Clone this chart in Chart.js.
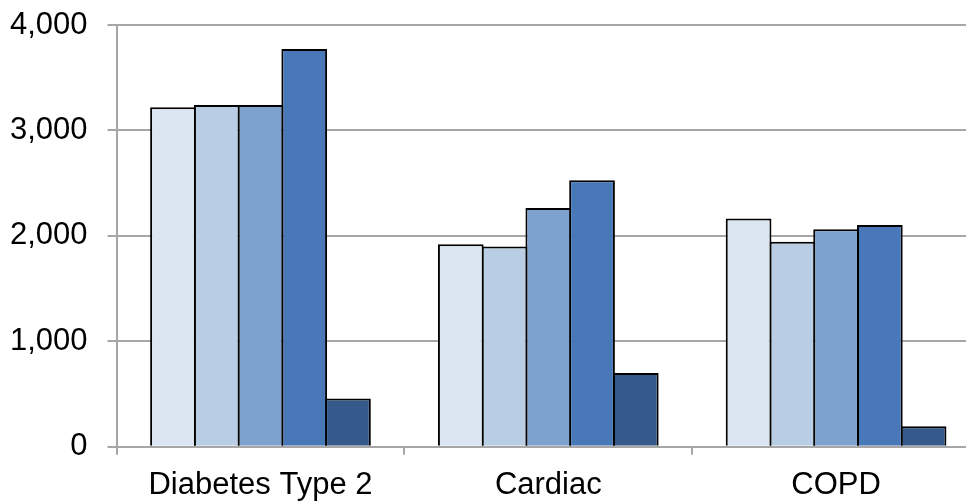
<!DOCTYPE html>
<html>
<head>
<meta charset="utf-8">
<script src="https://cdn.jsdelivr.net/npm/chart.js@4"></script>
<style>
  html, body { margin: 0; padding: 0; background: #fff; overflow: hidden; }
  #wrap { width: 990px; height: 501px; }
</style>
</head>
<body>
<div id="wrap"><canvas id="grafico" width="990" height="501"></canvas></div>
<script>
const categorias = ['Diabetes Type 2', 'Cardiac', 'COPD'];

// um array por série (da mais clara à mais escura)
const serie1 = [3220, 1922, 2164];
const serie2 = [3242, 1900, 1945];
const serie3 = [3242, 2265, 2062];
const serie4 = [3772, 2528, 2103];
const serie5 = [457, 701, 194];

const nomesSeries = ['Series 1', 'Series 2', 'Series 3', 'Series 4', 'Series 5'];
const cores = ['#dce6f2', '#b9cde5', '#7da2cd', '#4878b7', '#34598a'];

const valoresY = [0, 1000, 2000, 3000, 4000];

function gerarGrafico() {
  const series = [serie1, serie2, serie3, serie4, serie5];
  const ctx = document.getElementById('grafico').getContext('2d');
  new Chart(ctx, {
    type: 'bar',
    data: {
      labels: categorias,
      datasets: series.map((data, i) => ({
        label: nomesSeries[i],
        data,
        backgroundColor: cores[i],
        borderColor: '#000',
        borderWidth: 2,
        borderSkipped: 'bottom',
        categoryPercentage: 0.76,
        // barras um pouco sobrepostas para a borda entre elas ficar simples
        barPercentage: 1.045
      }))
    },
    options: {
      responsive: false,
      animation: false,
      layout: { padding: { left: -10, top: 25, right: 10, bottom: -15 } },
      plugins: {
        legend: { display: false },
        tooltip: { enabled: false }
      },
      scales: {
        x: {
          grid: {
            offset: true,
            drawOnChartArea: false,
            drawTicks: true,
            tickLength: 8,
            color: '#a6a6a6',
            lineWidth: 2
          },
          border: { color: '#a6a6a6', width: 2 },
          ticks: {
            color: '#000',
            padding: 12,
            font: { family: '"Liberation Sans", Arial, sans-serif', size: 31 }
          }
        },
        y: {
          min: 0,
          max: 4000,
          afterBuildTicks: axis => { axis.ticks = valoresY.map(value => ({ value })); },
          afterFit: axis => { axis.paddingTop = 0; axis.paddingBottom = 0; },
          grid: {
            color: '#a6a6a6',
            lineWidth: 2,
            drawTicks: true,
            tickLength: 9
          },
          border: { color: '#a6a6a6', width: 2 },
          ticks: {
            color: '#000',
            padding: 20,
            font: { family: '"Liberation Sans", Arial, sans-serif', size: 31 },
            callback: v => v.toLocaleString('en-US')
          }
        }
      }
    }
  });
}

gerarGrafico();
</script>
</body>
</html>
